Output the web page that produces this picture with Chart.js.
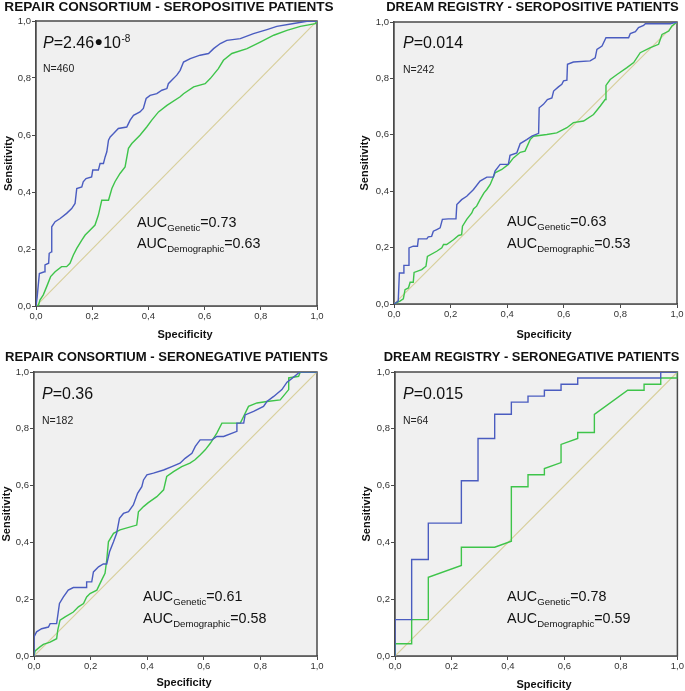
<!DOCTYPE html>
<html><head><meta charset="utf-8">
<script src="https://cdn.jsdelivr.net/npm/chart.js@4.4.1/dist/chart.umd.min.js"></script>
<style>
html,body{margin:0;padding:0;background:#fff;}
#wrap{position:relative;width:685px;height:691px;overflow:hidden;background:#fff;}
canvas{position:absolute;display:block;}
</style></head><body><div id="wrap"></div>
<script>
// ---------- DATA ----------
const tickLabels = ['0,0','0,2','0,4','0,6','0,8','1,0'];
const panelTitles = [
  'REPAIR CONSORTIUM - SEROPOSITIVE PATIENTS',
  'DREAM REGISTRY - SEROPOSITIVE PATIENTS',
  'REPAIR CONSORTIUM - SERONEGATIVE PATIENTS',
  'DREAM REGISTRY - SERONEGATIVE PATIENTS'
];
const pValues = ['2.46\u25CF10', '0.014', '0.36', '0.015'];
const pExponents = ['-8', '', '', ''];
const sampleSizes = ['N=460', 'N=242', 'N=182', 'N=64'];
const aucGenetic = ['0.73', '0.63', '0.61', '0.78'];
const aucDemographic = ['0.63', '0.53', '0.58', '0.59'];
const referenceX = [0, 1];
const referenceY = [0, 1];

// Panel 1: REPAIR seropositive
const p1GeneticX = [0,0.004,0.012,0.03,0.032,0.045,0.047,0.055,0.056,0.068,0.086,0.109,0.127,0.139,0.145,0.163,0.168,0.178,0.198,0.202,0.222,0.228,0.24,0.246,0.252,0.258,0.264,0.276,0.293,0.323,0.335,0.347,0.37,0.382,0.392,0.406,0.43,0.448,0.466,0.471,0.483,0.501,0.513,0.525,0.549,0.584,0.614,0.632,0.656,0.679,0.727,0.774,0.822,0.857,0.917,0.964,1];
const p1GeneticY = [0,0.03,0.114,0.12,0.144,0.15,0.185,0.19,0.278,0.296,0.307,0.325,0.342,0.36,0.412,0.418,0.436,0.447,0.453,0.477,0.477,0.5,0.5,0.523,0.541,0.582,0.593,0.605,0.623,0.628,0.652,0.669,0.681,0.693,0.728,0.739,0.745,0.757,0.763,0.78,0.792,0.81,0.827,0.856,0.868,0.88,0.886,0.903,0.921,0.932,0.938,0.956,0.97,0.981,0.991,0.999,1];
const p1DemographicX = [0,0.008,0.014,0.026,0.038,0.052,0.068,0.091,0.109,0.121,0.133,0.145,0.163,0.175,0.192,0.21,0.222,0.234,0.258,0.27,0.281,0.299,0.317,0.329,0.341,0.37,0.394,0.412,0.436,0.466,0.513,0.525,0.561,0.602,0.62,0.649,0.667,0.697,0.751,0.798,0.846,0.893,0.941,0.994,1];
const p1DemographicY = [0,0,0.021,0.039,0.068,0.103,0.12,0.138,0.138,0.15,0.179,0.202,0.231,0.249,0.266,0.284,0.319,0.371,0.371,0.412,0.436,0.465,0.488,0.553,0.57,0.599,0.628,0.652,0.681,0.704,0.734,0.745,0.769,0.78,0.798,0.833,0.862,0.886,0.903,0.926,0.95,0.967,0.981,0.991,1];

// Panel 2: DREAM seropositive
const p2GeneticX = [0,0.015,0.019,0.035,0.035,0.051,0.053,0.068,0.083,0.086,0.116,0.121,0.133,0.139,0.151,0.163,0.171,0.192,0.219,0.222,0.239,0.257,0.281,0.304,0.328,0.351,0.357,0.375,0.404,0.41,0.434,0.446,0.469,0.487,0.511,0.513,0.528,0.542,0.558,0.564,0.581,0.593,0.599,0.611,0.613,0.634,0.693,0.711,0.717,0.735,0.749,0.829,0.835,0.853,0.864,0.882,0.888,0.976,1];
const p2GeneticY = [0,0.01,0.11,0.11,0.137,0.137,0.199,0.205,0.205,0.231,0.231,0.238,0.24,0.258,0.264,0.27,0.3,0.302,0.302,0.353,0.37,0.382,0.406,0.436,0.45,0.45,0.471,0.495,0.495,0.527,0.536,0.569,0.583,0.595,0.605,0.696,0.708,0.725,0.731,0.755,0.77,0.779,0.791,0.794,0.85,0.858,0.862,0.873,0.903,0.915,0.944,0.944,0.959,0.966,0.98,0.988,0.994,0.994,1];
const p2DemographicX = [0,0.021,0.033,0.039,0.051,0.057,0.068,0.071,0.098,0.113,0.118,0.151,0.169,0.175,0.186,0.21,0.228,0.239,0.242,0.257,0.275,0.281,0.292,0.304,0.318,0.328,0.34,0.357,0.381,0.404,0.422,0.446,0.463,0.481,0.493,0.54,0.575,0.611,0.634,0.67,0.705,0.729,0.746,0.749,0.764,0.788,0.823,0.847,0.87,0.906,0.935,0.947,0.971,0.982,1];
const p2DemographicY = [0,0.01,0.018,0.051,0.057,0.077,0.077,0.112,0.122,0.134,0.169,0.187,0.199,0.211,0.211,0.228,0.243,0.246,0.276,0.3,0.323,0.337,0.347,0.37,0.394,0.406,0.424,0.465,0.477,0.495,0.518,0.538,0.542,0.583,0.595,0.601,0.607,0.625,0.643,0.649,0.672,0.702,0.725,0.775,0.796,0.814,0.838,0.856,0.891,0.909,0.921,0.956,0.968,0.986,1];

// Panel 3: REPAIR seronegative
const p3GeneticX = [0,0,0.009,0.027,0.051,0.057,0.08,0.09,0.104,0.121,0.139,0.184,0.186,0.204,0.21,0.228,0.245,0.257,0.267,0.281,0.292,0.302,0.316,0.334,0.351,0.366,0.381,0.387,0.399,0.422,0.458,0.487,0.516,0.534,0.558,0.57,0.587,0.629,0.646,0.67,0.717,0.717,0.741,0.746,0.776,0.811,0.823,0.847,0.876,0.894,0.906,0.939,1];
const p3GeneticY = [0,0.067,0.085,0.096,0.102,0.114,0.114,0.185,0.208,0.232,0.241,0.241,0.261,0.261,0.296,0.314,0.324,0.324,0.367,0.402,0.432,0.485,0.502,0.508,0.532,0.573,0.596,0.62,0.638,0.644,0.655,0.667,0.679,0.696,0.714,0.738,0.761,0.761,0.773,0.773,0.791,0.82,0.82,0.849,0.861,0.879,0.896,0.914,0.938,0.964,0.973,1,1];
const p3DemographicX = [0,0.004,0.021,0.033,0.057,0.08,0.084,0.092,0.11,0.139,0.157,0.175,0.186,0.198,0.222,0.239,0.251,0.257,0.263,0.281,0.304,0.363,0.369,0.387,0.404,0.434,0.458,0.469,0.493,0.522,0.551,0.569,0.587,0.605,0.623,0.646,0.664,0.729,0.741,0.758,0.788,0.823,0.87,0.9,0.9,0.935,0.941,1];
const p3DemographicY = [0,0.018,0.032,0.041,0.049,0.061,0.091,0.126,0.138,0.155,0.173,0.185,0.208,0.22,0.232,0.267,0.291,0.338,0.402,0.432,0.444,0.461,0.508,0.526,0.54,0.561,0.585,0.632,0.649,0.667,0.679,0.691,0.708,0.726,0.749,0.785,0.82,0.82,0.844,0.879,0.891,0.896,0.902,0.938,0.979,0.985,1,1];

// Panel 4: DREAM seronegative
const p4GeneticX = [0,0,0.059,0.059,0.118,0.118,0.235,0.235,0.294,0.294,0.353,0.353,0.412,0.412,0.471,0.471,0.529,0.529,0.588,0.588,0.647,0.647,0.941,0.941,1];
const p4GeneticY = [0,0.128,0.128,0.34,0.34,0.468,0.468,0.617,0.617,0.766,0.766,0.851,0.851,0.894,0.894,0.915,0.915,0.936,0.936,0.957,0.957,0.979,0.979,1,1];
const p4DemographicX = [0,0,0.059,0.059,0.118,0.118,0.235,0.235,0.353,0.412,0.412,0.471,0.471,0.529,0.529,0.588,0.588,0.647,0.647,0.706,0.706,0.824,0.882,0.882,0.941,0.941,1,1];
const p4DemographicY = [0,0.043,0.043,0.128,0.128,0.277,0.319,0.383,0.383,0.404,0.596,0.596,0.638,0.638,0.66,0.681,0.745,0.766,0.787,0.787,0.851,0.936,0.936,0.957,0.957,0.979,0.979,1];

// ---------- STYLE / LAYOUT ----------
const FONT = "'Liberation Sans', Arial, Helvetica, sans-serif";
const COL_GEN = '#4a5cc0';
const COL_DEM = '#3ec44a';
const COL_REF = '#d8cf9c';
const COL_FRAME = '#4a4a4a';
const COL_BG = '#f0f0f0';

const layouts = [
  {left:0, top:0, w:342, h:340, yW:36, padT:21, padR:25, xH:34, yTitlePad:2.4,
   titleX:169, titleY:10.5, titleSize:13.6, xTitleX:185, xTitleY:338,
   pDx:7, pDy:27, nDy:51, aucDx:101, aucDy:206, auc2Dy:227},
  {left:355, top:0, w:330, h:340, yW:39, padT:22, padR:8, xH:36, yTitlePad:3.4,
   titleX:532.5, titleY:10.5, titleSize:13.05, xTitleX:544, xTitleY:338,
   pDx:9, pDy:26, nDy:51, aucDx:113, aucDy:204, auc2Dy:226},
  {left:0, top:340, w:342, h:351, yW:34, padT:32, padR:25, xH:35, yTitlePad:0,
   titleX:166.5, titleY:361, titleSize:13.1, xTitleX:184, xTitleY:686,
   pDx:8, pDy:27, nDy:52, aucDx:109, aucDy:229, auc2Dy:251},
  {left:355, top:340, w:330, h:351, yW:40, padT:32, padR:6, xH:35, yTitlePad:5.4,
   titleX:531.5, titleY:361, titleSize:12.95, xTitleX:544, xTitleY:688,
   pDx:8, pDy:27, nDy:52, aucDx:112, aucDy:229, auc2Dy:251}
];

const series = [
  [p1GeneticX, p1GeneticY, p1DemographicX, p1DemographicY],
  [p2GeneticX, p2GeneticY, p2DemographicX, p2DemographicY],
  [p3GeneticX, p3GeneticY, p3DemographicX, p3DemographicY],
  [p4GeneticX, p4GeneticY, p4DemographicX, p4DemographicY]
];

function pts(xs, ys){ return xs.map((x,i)=>({x:x, y:ys[i]})); }

function drawAuc(ctx, x, y, sub, val){
  ctx.font = `14.3px ${FONT}`;
  ctx.fillText('AUC', x, y);
  let cx = x + ctx.measureText('AUC').width;
  ctx.font = `9.6px ${FONT}`;
  ctx.fillText(sub, cx, y + 3.5);
  cx += ctx.measureText(sub).width;
  ctx.font = `14.3px ${FONT}`;
  ctx.fillText('=' + val, cx, y);
}

// draws text where the bullet character is rendered at its own size
function drawPText(ctx, text, x, y){
  const parts = text.split('\u25CF');
  parts.forEach((part, k) => {
    ctx.font = `16px ${FONT}`;
    ctx.fillText(part, x, y);
    x += ctx.measureText(part).width;
    if (k < parts.length - 1) {
      ctx.font = `14px ${FONT}`;
      x += 0.3;
      ctx.fillText('\u25CF', x, y - 1.8);
      x += ctx.measureText('\u25CF').width + 0.3;
    }
  });
  return x;
}

const panelPlugin = {
  id: 'panelDecor',
  beforeDatasetsDraw(chart){
    const ctx = chart.ctx, a = chart.chartArea;
    ctx.save();
    ctx.fillStyle = COL_BG;
    ctx.fillRect(a.left, a.top, a.right - a.left, a.bottom - a.top);
    ctx.strokeStyle = COL_FRAME;
    ctx.lineWidth = 1.5;
    ctx.strokeRect(a.left, a.top, a.right - a.left, a.bottom - a.top);
    ctx.restore();
  },
  afterDraw(chart){
    const i = chart.options.plugins.panelDecor.index;
    const L = layouts[i];
    const ctx = chart.ctx, a = chart.chartArea;
    ctx.save();
    ctx.fillStyle = '#111';
    ctx.textBaseline = 'alphabetic';
    // panel title
    ctx.textAlign = 'center';
    ctx.font = `bold ${L.titleSize}px ${FONT}`;
    ctx.fillText(panelTitles[i], L.titleX - L.left, L.titleY - L.top);
    // x-axis title
    ctx.font = `bold 11px ${FONT}`;
    ctx.fillText('Specificity', L.xTitleX - L.left, L.xTitleY - L.top);
    // P value
    ctx.textAlign = 'left';
    let x = a.left + L.pDx, y = a.top + L.pDy;
    ctx.font = `italic 16px ${FONT}`;
    ctx.fillText('P', x, y);
    x += ctx.measureText('P').width;
    x = drawPText(ctx, '=' + pValues[i], x, y);
    if (pExponents[i]) {
      ctx.font = `10px ${FONT}`;
      ctx.fillText(pExponents[i], x + 0.5, y - 6);
    }
    // N
    ctx.fillStyle = '#222';
    ctx.font = `10.5px ${FONT}`;
    ctx.fillText(sampleSizes[i], a.left + L.pDx, a.top + L.nDy);
    // AUC
    ctx.fillStyle = '#111';
    drawAuc(ctx, a.left + L.aucDx, a.top + L.aucDy, 'Genetic', aucGenetic[i]);
    drawAuc(ctx, a.left + L.aucDx, a.top + L.auc2Dy, 'Demographic', aucDemographic[i]);
    ctx.restore();
  }
};

const wrap = document.getElementById('wrap');
layouts.forEach((L, i) => {
  const cv = document.createElement('canvas');
  cv.width = L.w; cv.height = L.h;
  cv.style.left = L.left + 'px'; cv.style.top = L.top + 'px';
  cv.style.width = L.w + 'px'; cv.style.height = L.h + 'px';
  wrap.appendChild(cv);
  const [gx, gy, dx, dy] = series[i];
  const axisCommon = {
    type: 'linear', min: 0, max: 1,
    grid: {display: true, drawOnChartArea: false, drawTicks: true, tickLength: 4, color: COL_FRAME, lineWidth: 1},
    border: {display: true, color: COL_FRAME, width: 1.5}
  };
  new Chart(cv, {
    type: 'scatter',
    data: {
      datasets: [
        {label: 'Genetic', data: pts(gx, gy), showLine: true, borderColor: COL_GEN, backgroundColor: COL_GEN, borderWidth: 1.4, pointRadius: 0, tension: 0},
        {label: 'Demographic', data: pts(dx, dy), showLine: true, borderColor: COL_DEM, backgroundColor: COL_DEM, borderWidth: 1.4, pointRadius: 0, tension: 0},
        {label: 'Reference line', data: pts(referenceX, referenceY), showLine: true, borderColor: COL_REF, backgroundColor: COL_REF, borderWidth: 1.2, pointRadius: 0}
      ]
    },
    options: {
      responsive: false, animation: false, devicePixelRatio: 1,
      layout: {padding: {top: L.padT, right: L.padR, left: 0, bottom: 0}},
      plugins: {legend: {display: false}, tooltip: {enabled: false}, title: {display: false}, panelDecor: {index: i}},
      scales: {
        x: Object.assign({}, axisCommon, {
          position: 'bottom',
          ticks: {stepSize: 0.2, padding: 1, color: '#333', font: {family: FONT, size: 9.5}, maxRotation: 0,
                  callback: (v, idx) => tickLabels[idx]},
          title: {display: false},
          afterFit: s => { s.height = L.xH; }
        }),
        y: Object.assign({}, axisCommon, {
          position: 'left',
          ticks: {stepSize: 0.2, padding: 1, color: '#333', font: {family: FONT, size: 9.5},
                  callback: (v, idx) => tickLabels[idx]},
          title: {display: true, text: 'Sensitivity', color: '#111',
                  font: {family: FONT, size: 11, weight: 'bold', lineHeight: 1.2},
                  padding: {top: L.yTitlePad, bottom: 0}},
          afterFit: s => { s.width = L.yW; }
        })
      }
    },
    plugins: [panelPlugin]
  });
});
</script>
</body></html>
